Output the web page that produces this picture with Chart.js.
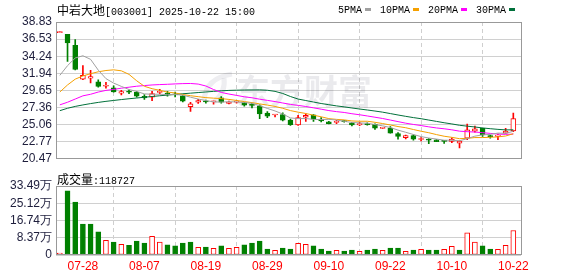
<!DOCTYPE html>
<html><head><meta charset="utf-8">
<script src="https://cdn.jsdelivr.net/npm/chart.js@4/dist/chart.umd.min.js"></script>
<style>
html,body{margin:0;padding:0;background:#fff;}
#wrap{position:relative;width:578px;height:276px;overflow:hidden;background:#fff;}
canvas{position:absolute;left:0;}
#cA{top:0;width:578px;height:170px;}
#cB{top:170px;width:578px;height:106px;}
.t{position:absolute;white-space:nowrap;line-height:14px;color:#000;}
.cj{font:12px 'Noto Sans CJK SC';}
.mo{font:10px 'Liberation Mono';}
.sq{display:inline-block;width:6px;height:3px;vertical-align:middle;margin-left:3px;}
</style></head>
<body><div id="wrap">
<canvas id="cA" width="578" height="170"></canvas>
<canvas id="cB" width="578" height="106"></canvas>
<div class="t" style="left:57px;top:1px;"><span class="cj">中岩大地</span><span class="mo">[003001] 2025-10-22 15:00</span></div>
<div class="t" id="legend" style="left:338px;top:1px;"></div>
<div class="t" style="left:57px;top:170px;"><span class="cj">成交量</span><span class="mo">:118727</span></div>
</div>
<script>
const dates = ['07-23','07-24','07-25','07-28','07-29','07-30','07-31',
'08-01','08-04','08-05','08-06','08-07','08-08','08-11','08-12','08-13','08-14','08-15','08-18','08-19','08-20','08-21','08-22','08-25','08-26','08-27','08-28','08-29',
'09-01','09-02','09-03','09-04','09-05','09-08','09-09','09-10','09-11','09-12','09-15','09-16','09-17','09-18','09-19','09-22','09-23','09-24','09-25','09-26','09-29','09-30',
'10-09','10-10','10-13','10-14','10-15','10-16','10-17','10-20','10-21','10-22'];
const opens  = [37.41,37.19,35.69,31.16,31.29,30.81,30.21,30.00,29.28,29.47,29.39,28.87,28.74,29.39,29.30,29.12,28.91,27.45,28.06,28.20,28.10,28.65,27.90,28.08,28.00,27.75,27.58,26.59,26.35,26.42,25.68,25.03,26.07,26.37,25.80,25.42,25.34,25.52,25.25,25.03,25.20,25.10,24.56,24.60,23.87,23.31,23.57,23.06,23.10,23.00,22.85,22.80,22.58,23.23,24.18,24.57,23.50,23.48,23.92,24.22];
const highs  = [37.41,37.19,36.46,32.97,32.36,31.07,30.72,30.26,29.65,29.69,29.52,29.09,29.52,29.78,29.52,29.43,28.95,28.06,28.44,28.35,28.20,28.83,28.20,28.30,28.06,27.90,27.70,26.80,26.45,26.65,25.80,26.29,26.50,26.40,25.99,25.50,25.64,25.60,25.38,25.38,25.30,25.15,24.65,24.78,24.00,23.66,23.70,23.32,23.20,23.05,22.92,23.27,22.88,25.12,24.86,24.57,23.66,23.79,24.57,26.59];
const lows   = [37.41,33.53,32.40,31.10,30.64,30.08,29.95,29.40,29.05,29.22,28.74,28.44,28.27,29.18,28.87,28.79,28.10,26.84,27.90,27.95,27.80,27.95,27.85,27.95,27.55,27.30,25.86,25.98,26.10,25.54,24.95,24.95,25.50,25.50,25.43,25.15,25.17,25.40,24.87,24.90,25.00,24.40,24.50,23.92,23.10,23.14,22.97,22.88,22.50,22.76,22.55,22.62,21.93,23.05,24.05,23.48,23.23,23.05,23.87,24.10];
const closes = [37.41,36.03,32.46,31.68,31.50,30.20,30.30,29.45,29.50,29.42,28.87,28.65,29.22,29.52,29.09,29.05,28.19,27.84,28.27,28.10,28.15,28.06,28.08,28.12,27.67,27.65,26.50,26.20,26.42,25.64,25.05,25.99,26.29,25.80,25.55,25.20,25.50,25.47,25.03,25.20,25.05,24.57,24.60,23.92,23.48,23.57,23.10,23.19,22.97,22.76,22.80,23.10,22.83,24.35,24.48,23.66,23.45,23.66,24.18,25.86];
const volumes = [0.97,31.1,25.7,15.0,15.0,11.2,7.1,6.3,5.2,4.7,6.8,5.8,9.1,6.3,4.9,4.4,5.8,6.3,3.7,3.9,3.2,4.4,3.2,3.7,4.9,5.8,6.8,2.9,2.3,3.4,2.9,5.7,5.2,4.4,2.9,1.9,2.3,1.9,2.4,1.8,2.4,2.9,2.3,3.4,3.4,1.8,2.4,2.7,2.4,2.4,2.7,4.2,2.4,10.7,6.3,4.4,2.9,2.7,4.7,11.87];
const ma5  = [31.67,32.97,34.00,34.30,33.82,32.37,31.23,30.63,30.19,29.77,29.51,29.18,29.13,29.14,29.07,29.11,29.01,28.74,28.49,28.29,28.11,28.08,28.13,28.10,28.02,27.92,27.60,27.23,26.89,26.48,25.96,25.86,25.88,25.75,25.74,25.77,25.67,25.50,25.35,25.28,25.25,25.06,24.89,24.67,24.32,24.03,23.73,23.45,23.26,23.12,22.96,22.96,22.89,23.17,23.51,23.68,23.75,23.92,23.89,24.16];
const ma10 = [29.43,30.38,31.16,31.59,31.89,32.15,32.32,32.41,32.28,31.80,30.94,30.20,29.88,29.66,29.42,29.31,29.10,28.94,28.81,28.68,28.61,28.55,28.44,28.30,28.15,28.01,27.84,27.68,27.50,27.25,26.94,26.73,26.55,26.32,26.11,25.86,25.76,25.69,25.55,25.51,25.51,25.37,25.20,25.01,24.80,24.64,24.40,24.17,23.97,23.72,23.50,23.35,23.17,23.22,23.32,23.32,23.36,23.41,23.53,23.84];
const ma20 = [27.71,28.06,28.49,28.92,29.13,29.43,29.65,29.78,29.95,30.08,30.21,30.30,30.38,30.43,30.47,30.52,30.56,30.58,30.50,30.24,29.77,29.38,29.16,28.98,28.79,28.66,28.47,28.31,28.15,27.96,27.77,27.64,27.49,27.31,27.13,26.94,26.80,26.69,26.52,26.38,26.22,26.05,25.88,25.67,25.46,25.25,25.08,24.93,24.76,24.61,24.50,24.36,24.18,24.11,24.06,23.98,23.88,23.79,23.75,23.78];
const ma30 = [26.93,27.25,27.50,27.70,27.88,28.04,28.18,28.30,28.42,28.53,28.63,28.73,28.83,28.93,29.02,29.11,29.20,29.28,29.36,29.44,29.52,29.59,29.65,29.68,29.70,29.71,29.72,29.67,29.52,29.24,28.83,28.49,28.29,28.09,27.89,27.73,27.57,27.44,27.29,27.15,27.02,26.88,26.73,26.54,26.35,26.17,26.00,25.85,25.67,25.49,25.31,25.15,24.97,24.85,24.74,24.61,24.51,24.42,24.35,24.36];
const priceTicks = [20.47,22.77,25.06,27.36,29.65,31.94,34.24,36.53,38.83];
const volTicks = [0,8.37,16.74,25.12,33.49];
const volTickLabels = ['0','8.37万','16.74万','25.12万','33.49万'];
const xTickLabels = ['07-28','08-07','08-19','08-29','09-10','09-22','10-10','10-22'];
const maNames = ['5PMA','10PMA','20PMA','30PMA'];

const RED = '#ff0000', GREEN = '#008000';
const maColors = ['#a0a0a0','#f5a000','#ff00ff','#00703a'];
const xTickIdx = xTickLabels.map(l => dates.indexOf(l));
const candleUp = closes.map((c,i) => c >= opens[i]);
const volUp = closes.map((c,i) => i === 0 ? candleUp[0] : c >= closes[i-1]);

// legend
const lg = document.getElementById('legend');
maNames.forEach((n,k) => {
  const s = document.createElement('span');
  s.className = 'mo'; s.textContent = n;
  s.style.marginLeft = k ? '9px' : '0';
  lg.appendChild(s);
  const b = document.createElement('span');
  b.className = 'sq'; b.style.background = maColors[k];
  lg.appendChild(b);
});

Chart.defaults.font.family = "'Liberation Sans', Arial, sans-serif";
Chart.defaults.font.size = 12;

const frame = { id:'frame', afterDatasetsDraw(chart){
  const {ctx, chartArea:a} = chart;
  ctx.save(); ctx.strokeStyle = '#999'; ctx.lineWidth = 1;
  ctx.strokeRect(Math.round(a.left)+0.5, Math.round(a.top)+0.5, Math.round(a.right-a.left), Math.round(a.bottom-a.top)-1);
  ctx.restore();
}};
const watermark = { id:'wm', beforeDatasetsDraw(chart){
  const ctx = chart.ctx; ctx.save();
  ctx.fillStyle = 'rgba(20,20,60,0.09)';
  ctx.font = "bold 34px 'Noto Sans CJK SC'";
  ctx.textBaseline = 'middle';
  ctx.fillText('东方财富', 236, 91);
  ctx.lineWidth = 5; ctx.strokeStyle = 'rgba(20,20,60,0.07)';
  ctx.beginPath(); ctx.moveTo(204,100); ctx.quadraticCurveTo(206,78,232,74); ctx.stroke();
  ctx.beginPath(); ctx.moveTo(214,102); ctx.quadraticCurveTo(226,92,224,78); ctx.stroke();
  ctx.restore();
}};

function xScale(show){
  return {
    type:'linear', min:-0.5, max:60, offset:false,
    afterBuildTicks: s => { s.ticks = xTickIdx.map(v => ({value:v})); },
    afterFit: s => { s.height = show ? 21 : 0; },
    grid:{ color:'#cfcfcf', drawTicks:false, lineWidth:1 },
    border:{ display:false, dash:[4,3] },
    ticks:{ display:show, callback: v => dates[v], color:RED, padding:4, maxRotation:0, autoSkip:false }
  };
}

const wickData = dates.map((d,i) => ({x:i, y:[lows[i], highs[i]]}));
const bodyData = dates.map((d,i) => ({x:i, y:[opens[i], closes[i]]}));
const maSets = [ma5, ma10, ma20, ma30].map((arr,k) => ({
  type:'line', label:maNames[k], data: arr.map((v,i) => ({x:i, y:v})),
  borderColor: maColors[k], borderWidth:1, pointRadius:0, tension:0, order:0, fill:false
}));

new Chart(document.getElementById('cA'), {
  type:'bar',
  data:{ datasets:[
    ...maSets,
    { label:'body', data: bodyData, grouped:false, barThickness:5, maxBarThickness:5, minBarLength:1,
      backgroundColor: candleUp.map(u => u ? '#ffffff' : GREEN),
      borderColor: candleUp.map(u => u ? RED : GREEN), borderWidth:1, borderSkipped:false, order:1 },
    { label:'wick', data: wickData, grouped:false, barThickness:1, maxBarThickness:1, minBarLength:1,
      backgroundColor: candleUp.map(u => u ? RED : GREEN), borderWidth:0, order:2 }
  ]},
  options:{
    responsive:false, animation:false, events:[],
    layout:{ padding:{ left:0, right:57, top:22, bottom:6 } },
    plugins:{ legend:{display:false}, tooltip:{enabled:false} },
    scales:{
      x: xScale(false),
      y:{ type:'linear', min:priceTicks[0], max:priceTicks[priceTicks.length-1],
        afterBuildTicks: s => { s.ticks = priceTicks.map(v => ({value:v})); },
        afterFit: s => { s.width = 56; },
        grid:{ color:'#d0d0d0', drawTicks:false },
        border:{ display:false },
        ticks:{ callback: v => v.toFixed(2), color:'#1e1e3c', padding:4, autoSkip:false } }
    }
  },
  plugins:[watermark, frame]
});

new Chart(document.getElementById('cB'), {
  type:'bar',
  data:{ datasets:[
    { label:'vol', data: dates.map((d,i) => ({x:i, y:volumes[i]})), grouped:false,
      barThickness:5, maxBarThickness:5,
      backgroundColor: volUp.map(u => u ? '#ffffff' : GREEN),
      borderColor: volUp.map(u => u ? RED : GREEN), borderWidth:1, borderSkipped:false }
  ]},
  options:{
    responsive:false, animation:false, events:[],
    layout:{ padding:{ left:0, right:57, top:16, bottom:0 } },
    plugins:{ legend:{display:false}, tooltip:{enabled:false} },
    scales:{
      x: xScale(true),
      y:{ type:'linear', min:volTicks[0], max:volTicks[volTicks.length-1],
        afterBuildTicks: s => { s.ticks = volTicks.map(v => ({value:v})); },
        afterFit: s => { s.width = 56; },
        grid:{ color:'#d0d0d0', drawTicks:false },
        border:{ display:false },
        ticks:{ callback: v => volTickLabels[volTicks.indexOf(v)], color:'#1e1e3c', padding:4, autoSkip:false } }
    }
  },
  plugins:[frame]
});
</script>
</body></html>
